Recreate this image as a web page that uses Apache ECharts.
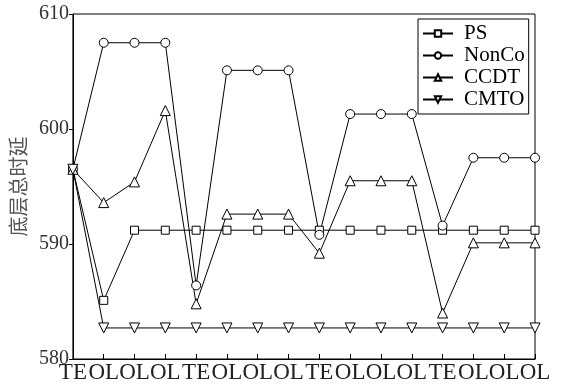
<!DOCTYPE html>
<html>
<head>
<meta charset="utf-8">
<script src="https://cdn.jsdelivr.net/npm/echarts@6/dist/echarts.min.js"></script>
<style>html,body{margin:0;padding:0;background:#fff}#c{width:562px;height:386px}</style>
</head>
<body>
<div id="c"></div>
<script>
var categories = ['TE','OL','OL','OL','TE','OL','OL','OL','TE','OL','OL','OL','TE','OL','OL','OL'];
var yTicks = [580, 590, 600, 610];
var PS    = [596.5, 585.1, 591.2, 591.2, 591.2, 591.2, 591.2, 591.2, 591.2, 591.2, 591.2, 591.2, 591.2, 591.2, 591.2, 591.2];
var NonCo = [596.5, 607.5, 607.5, 607.5, 586.4, 605.1, 605.1, 605.1, 590.8, 601.3, 601.3, 601.3, 591.6, 597.5, 597.5, 597.5];
var CCDT  = [596.5, 593.6, 595.4, 601.6, 584.8, 592.6, 592.6, 592.6, 589.2, 595.5, 595.5, 595.5, 584.0, 590.1, 590.1, 590.1];
var CMTO  = [596.5, 582.7, 582.7, 582.7, 582.7, 582.7, 582.7, 582.7, 582.7, 582.7, 582.7, 582.7, 582.7, 582.7, 582.7, 582.7];
var seriesNames = ['PS', 'NonCo', 'CCDT', 'CMTO'];
var yName = '底层总时延';

var serif = 'Liberation Serif';
function mk(name, data, symbol, size, rot) {
  return {
    name: name, type: 'line', data: data,
    symbol: symbol, symbolSize: size, symbolRotate: rot || 0,
    showAllSymbol: true,
    lineStyle: {color: '#000', width: 1},
    itemStyle: {color: '#fff', borderColor: '#000', borderWidth: 1},
    emphasis: {disabled: true},
    animation: false
  };
}
var chart = echarts.init(document.getElementById('c'), null, {renderer: 'canvas'});
chart.setOption({
  animation: false,
  backgroundColor: '#fff',
  grid: {left: 72, top: 14, right: 27, bottom: 27, show: true, borderColor: '#000', borderWidth: 1, backgroundColor: 'transparent'},
  legend: {
    orient: 'vertical', left: 418, top: 19,
    padding: [4, 4, 4, 4],
    borderColor: '#000', borderWidth: 1,
    itemWidth: 30, itemHeight: 8, itemGap: 1,
    data: seriesNames,
    textStyle: {fontFamily: serif, fontSize: 21, color: '#000', lineHeight: 20, padding: [0, 0, 0, 6]}
  },
  xAxis: {
    type: 'category', data: categories, boundaryGap: false,
    axisLine: {lineStyle: {color: '#000', width: 1}},
    axisTick: {inside: true, length: 5, lineStyle: {color: '#000'}},
    axisLabel: {interval: 0, fontFamily: serif, fontSize: 23, color: '#222', margin: 2},
    splitLine: {show: false}
  },
  yAxis: {
    type: 'value', min: yTicks[0], max: yTicks[yTicks.length - 1], interval: 10,
    name: yName, nameLocation: 'middle', nameRotate: 90, nameGap: 39,
    nameTextStyle: {fontFamily: 'Noto Sans CJK SC', fontSize: 20, color: '#555'},
    axisLine: {show: true, lineStyle: {color: '#000', width: 1}},
    axisTick: {show: true, inside: false, length: 4, lineStyle: {color: '#000'}},
    axisLabel: {fontFamily: serif, fontSize: 20, color: '#333', margin: 4},
    splitLine: {show: false}
  },
  series: [
    mk(seriesNames[0], PS, 'rect', 8),
    mk(seriesNames[1], NonCo, 'circle', 9),
    mk(seriesNames[2], CCDT, 'triangle', 10),
    mk(seriesNames[3], CMTO, 'triangle', 10, 180)
  ]
});
</script>
</body>
</html>
